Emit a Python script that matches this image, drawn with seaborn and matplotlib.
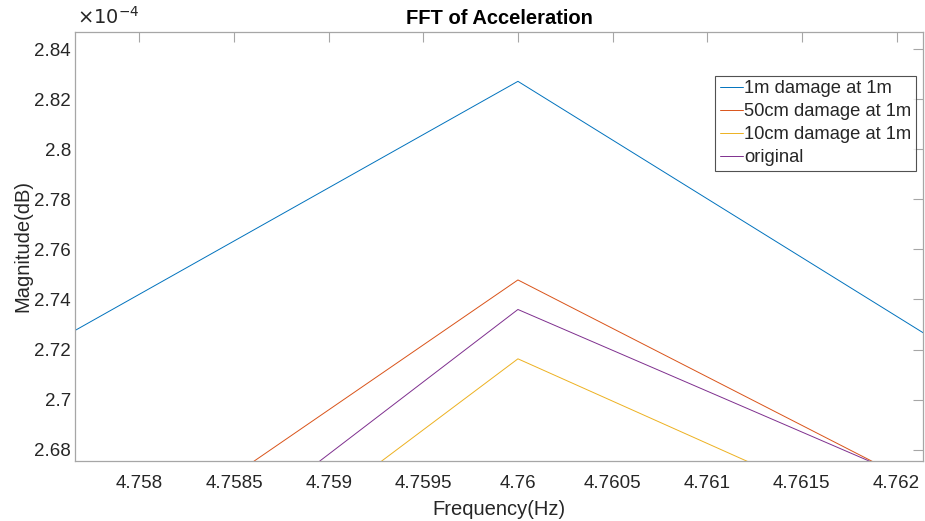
import numpy as np
import pandas as pd
import matplotlib
matplotlib.use("Agg")
import matplotlib.pyplot as plt
import seaborn as sns
from matplotlib.ticker import FuncFormatter, MultipleLocator

# Data (magnitudes in units of 1e-4)
freq = [4.756667, 4.760000, 4.763333]
mag_1m = [2.6854, 2.8271, 2.6708]
mag_50cm = [2.5748, 2.7478, 2.6188]
mag_10cm = [2.5273, 2.7163, 2.6037]
mag_orig = [2.5433, 2.7360, 2.6273]
labels = ["1m damage at 1m", "50cm damage at 1m", "10cm damage at 1m", "original"]
colors = ["#0072BD", "#D95319", "#EDB120", "#7E2F8E"]

series = [mag_1m, mag_50cm, mag_10cm, mag_orig]
df = pd.concat([
    pd.DataFrame({"Frequency": freq, "Magnitude": s, "Series": lab})
    for s, lab in zip(series, labels)
], ignore_index=True)

sns.set_theme(style="white")
plt.rcParams["font.family"] = ["Liberation Sans", "DejaVu Sans"]

W, H = 925, 521
fig = plt.figure(figsize=(W / 100, H / 100), dpi=100)
ax = fig.add_axes([75 / W, 1 - 461 / H, (923 - 75) / W, (461 - 32) / H])

sns.lineplot(data=df, x="Frequency", y="Magnitude", hue="Series",
             hue_order=labels, palette=colors, sort=False,
             estimator=None, linewidth=0.7, ax=ax)

ax.set_xlim(4.75766, 4.76214)
ax.set_ylim(2.6755, 2.8468)
ax.xaxis.set_major_locator(MultipleLocator(0.0005))
ax.yaxis.set_major_locator(MultipleLocator(0.02))
fmt = FuncFormatter(lambda v, p: ("%.6g" % round(v, 6)))
ax.xaxis.set_major_formatter(fmt)
ax.yaxis.set_major_formatter(fmt)

spine_col = "#a6a6a6"
for s in ax.spines.values():
    s.set_visible(True)
    s.set_color(spine_col)
    s.set_linewidth(0.9)
ax.tick_params(axis="both", which="major", direction="in", length=7,
               width=0.8, color=spine_col, labelsize=13.5,
               labelcolor="#262626", top=True, right=True)
ax.tick_params(axis="x", pad=10)
ax.tick_params(axis="y", pad=3)

ax.set_xlabel("Frequency(Hz)", fontsize=14.5, color="#262626", labelpad=6)
ax.set_ylabel("Magnitude(dB)", fontsize=14.5, color="#262626", labelpad=1)
ax.set_title("FFT of Acceleration", fontsize=14.5, fontweight="bold",
             color="#000000", pad=6)

fig.text(77 / W, 1 - 28 / H, r"$\times 10^{-4}$", fontsize=14,
         color="#262626", ha="left", va="bottom")

leg = ax.legend(loc="upper right", bbox_to_anchor=(0.992, 0.898),
                borderaxespad=0, fontsize=13.2, frameon=True, fancybox=False,
                handlelength=1.25, handletextpad=0.1, borderpad=0.25,
                labelspacing=0.33, title=None)
leg.get_frame().set_edgecolor("#262626")
leg.get_frame().set_linewidth(0.8)
for line in leg.get_lines():
    line.set_linewidth(0.7)

fig.savefig("out.png", dpi=100, facecolor="white")
